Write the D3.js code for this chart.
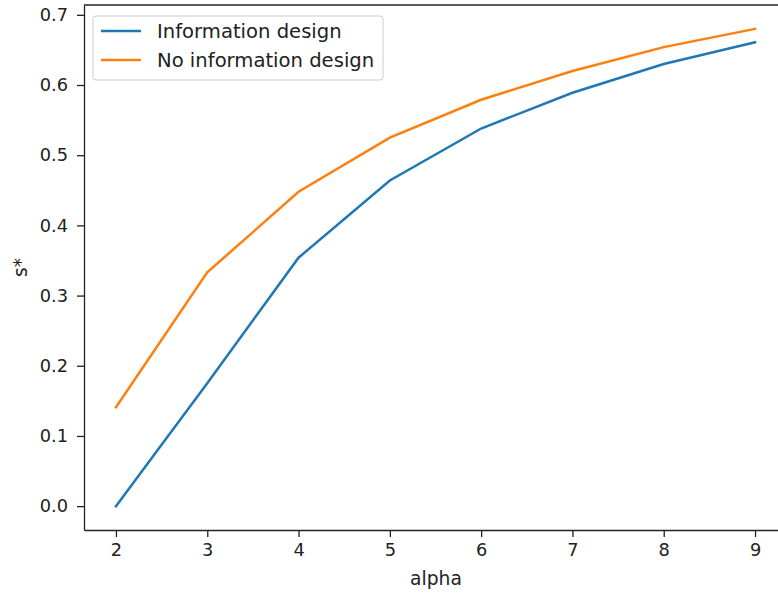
<!DOCTYPE html>
<html>
<head>
<meta charset="utf-8">
<script src="https://cdn.jsdelivr.net/npm/d3@7"></script>
<style>
  body { margin: 0; background: #fff; }
  svg { display: block; font-family: "DejaVu Sans", sans-serif; }
</style>
</head>
<body>
<svg id="chart" width="778" height="593"></svg>
<script>
// data
var alphas = [2, 3, 4, 5, 6, 7, 8, 9];
var withDesign = [0.0, 0.175, 0.354, 0.464, 0.538, 0.589, 0.630, 0.661];
var noDesign = [0.141, 0.333, 0.448, 0.525, 0.579, 0.620, 0.654, 0.680];
var seriesNames = ["Information design", "No information design"];
var yTicks = [0.0, 0.1, 0.2, 0.3, 0.4, 0.5, 0.6, 0.7];

var colors = ["#1f77b4", "#ff7f0e"];
var tickFont = 17.8, labelFont = 18.7, legendFont = 19.6;

var svg = d3.select("#chart");
var plotLeft = 84, plotTop = 5, plotRight = 787, plotBottom = 530;

// matplotlib style 5% margins
var x = d3.scaleLinear().domain([1.65, 9.35]).range([plotLeft, plotRight]);
var yMin = 0.0, yMax = 0.680, pad = (yMax - yMin) * 0.05;
var y = d3.scaleLinear().domain([yMin - pad, yMax + pad]).range([plotBottom, plotTop]);

var line = d3.line()
    .x(function(d) { return x(d[0]); })
    .y(function(d) { return y(d[1]); });

[withDesign, noDesign].forEach(function(vals, i) {
  svg.append("path")
    .datum(alphas.map(function(a, j) { return [a, vals[j]]; }))
    .attr("d", line)
    .attr("fill", "none")
    .attr("stroke", colors[i])
    .attr("stroke-width", 2.5)
    .attr("stroke-linecap", "square");
});

// axes
var xAxis = d3.axisBottom(x).tickValues(alphas).tickSize(7).tickSizeOuter(0).tickPadding(6)
    .tickFormat(d3.format("d"));
var yAxis = d3.axisLeft(y).tickValues(yTicks).tickSize(7).tickSizeOuter(0).tickPadding(9)
    .tickFormat(d3.format(".1f"));

var gx = svg.append("g").attr("transform", "translate(0," + plotBottom + ")").call(xAxis);
var gy = svg.append("g").attr("transform", "translate(" + plotLeft + ",0)").call(yAxis);

[gx, gy].forEach(function(g) {
  g.selectAll("path, line").attr("stroke", "#222").attr("stroke-width", 1.3);
  g.selectAll("text").attr("font-size", tickFont).attr("fill", "#222")
    .attr("font-family", "DejaVu Sans, sans-serif");
});

// top spine
svg.append("line")
  .attr("x1", plotLeft).attr("x2", plotRight)
  .attr("y1", plotTop).attr("y2", plotTop)
  .attr("stroke", "#222").attr("stroke-width", 1.3);

// labels
svg.append("text")
  .attr("x", 436).attr("y", 585)
  .attr("text-anchor", "middle").attr("font-size", labelFont).attr("fill", "#222")
  .text("alpha");

svg.append("text")
  .attr("transform", "translate(27," + ((plotTop + plotBottom) / 2) + ") rotate(-90)")
  .attr("text-anchor", "middle").attr("font-size", labelFont).attr("fill", "#222")
  .text("s*");

// legend
var lg = svg.append("g").attr("transform", "translate(93,16)");
lg.append("rect")
  .attr("width", 290).attr("height", 64).attr("rx", 3)
  .attr("fill", "#fff").attr("fill-opacity", 0.8)
  .attr("stroke", "#ccc").attr("stroke-width", 1);

seriesNames.forEach(function(name, i) {
  var yy = 15 + i * 29;
  lg.append("line")
    .attr("x1", 8).attr("x2", 48).attr("y1", yy).attr("y2", yy)
    .attr("stroke", colors[i]).attr("stroke-width", 2.5);
  lg.append("text")
    .attr("x", 64).attr("y", yy + 7)
    .attr("font-size", legendFont).attr("fill", "#222")
    .text(name);
});
</script>
</body>
</html>
